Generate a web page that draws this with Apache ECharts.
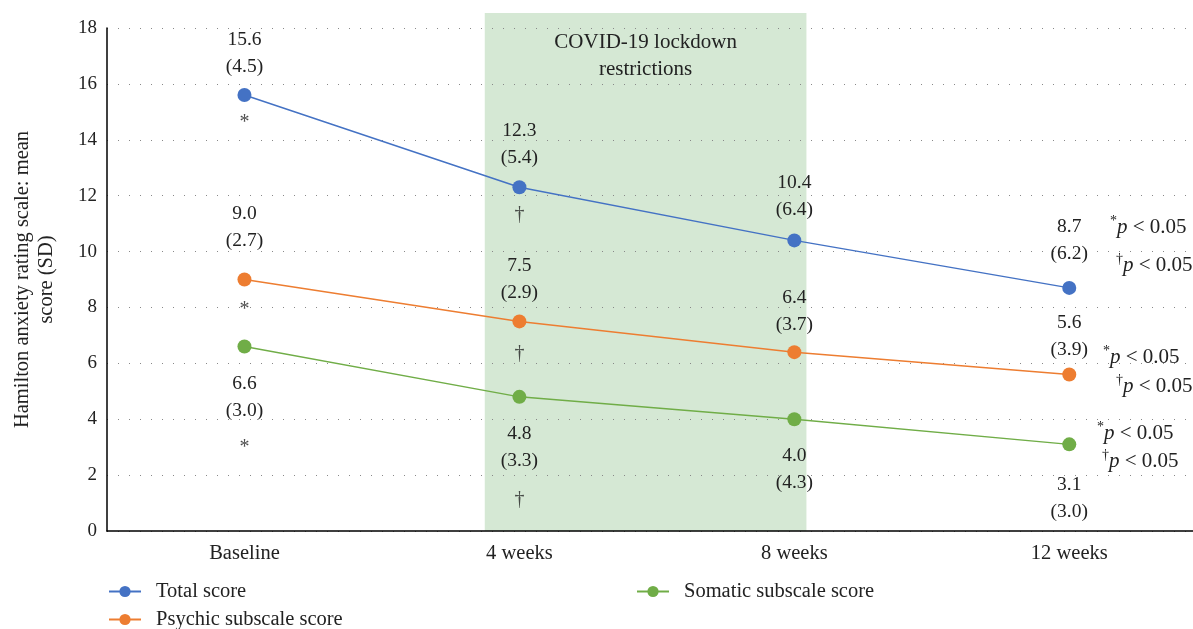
<!DOCTYPE html>
<html><head><meta charset="utf-8">
<script src="https://cdn.jsdelivr.net/npm/echarts@6/dist/echarts.min.js"></script>
<style>html,body{margin:0;padding:0;background:#fff}#c{width:1193px;height:629px}</style>
</head><body><div id="c"></div>
<script>
// ---- data ----
const categories = ['Baseline', '4 weeks', '8 weeks', '12 weeks'];
const seriesNames = ['Total score', 'Psychic subscale score', 'Somatic subscale score'];
const totalMean = [15.6, 12.3, 10.4, 8.7];
const totalSD = [4.5, 5.4, 6.4, 6.2];
const psychicMean = [9.0, 7.5, 6.4, 5.6];
const psychicSD = [2.7, 2.9, 3.7, 3.9];
const somaticMean = [6.6, 4.8, 4.0, 3.1];
const somaticSD = [3.0, 3.3, 4.3, 3.0];
const totalSig = ['*', '\u2020', '', ''];
const psychicSig = ['*', '\u2020', '', ''];
const somaticSig = ['*', '\u2020', '', ''];
const yMin = 0, yMax = 18, yStep = 2;
const shadeFrom = 1, shadeTo = 2; // category indices spanned by the lockdown period
const shadeText = 'COVID-19 lockdown\nrestrictions';
const yAxisTitle = 'Hamilton anxiety rating scale: mean\nscore (SD)';

// ---- layout / style (kept separate from data) ----
const FONT = 'Liberation Serif';
const colors = ['#4472C4', '#ED7D31', '#70AD47'];
const labelPos = ['top', 'top', 'bottom'];
const labelDist = [[8, 9, 10, 14], [18, 8, 7, 4], [17, 17, 16, 20]];
const sigOffset = [[28, 27], [30, 32], [101, 103]];
const noteLayout = [
  [[1110, 227], [1116, 265]],
  [[1103, 357], [1116, 386]],
  [[1097, 433], [1102, 461]]
];
const legendPlaces = [[108, 581], [108, 609], [636, 581]];
const catIdx = categories.map((c, i) => i);

const chart = echarts.init(document.getElementById('c'), null, {renderer: 'canvas'});

function mainSeries(idx, means, sds) {
  return {
    type: 'line', name: seriesNames[idx], z: 5,
    data: means.map((v, i) => ({value: [catIdx[i], v], label: {position: labelPos[idx], distance: labelDist[idx][i]}})),
    symbol: 'circle', symbolSize: 14, showSymbol: true,
    lineStyle: {width: 1.5, color: colors[idx]},
    itemStyle: {color: colors[idx]},
    emphasis: {disabled: true},
    animation: false,
    label: {
      show: true, fontFamily: FONT, fontSize: 19.5, lineHeight: 27, color: '#222',
      formatter: p => Number(p.value[1]).toFixed(1) + '\n(' + sds[p.dataIndex].toFixed(1) + ')'
    }
  };
}
function sigSeries(idx, means, sig) {
  return {
    type: 'scatter', name: 'sig' + idx, silent: true, z: 6,
    data: means.map((v, i) => [catIdx[i], v]),
    symbolSize: 1, itemStyle: {color: 'rgba(0,0,0,0)'},
    animation: false,
    label: {
      show: true, position: 'inside', fontFamily: FONT, fontSize: 20, color: '#222',
      formatter: p => sig[p.dataIndex]
    },
    labelLayout: p => ({dy: sigOffset[idx][p.dataIndex] !== undefined ? sigOffset[idx][p.dataIndex] : 0})
  };
}

const legends = seriesNames.map((n, i) => ({
  data: [n], orient: 'horizontal', padding: 0,
  left: legendPlaces[i][0], top: legendPlaces[i][1],
  itemWidth: 32, itemHeight: 14, itemGap: 8,
  textStyle: {fontFamily: FONT, fontSize: 20.5, color: '#222', lineHeight: 20, padding: [0, 0, 0, 10]}
}));

const option = {
  backgroundColor: '#fff',
  animation: false,
  textStyle: {fontFamily: FONT},
  grid: {left: 107, right: 0, top: 28, bottom: 98, containLabel: false},
  xAxis: {
    type: 'value', min: -0.5, max: categories.length - 0.55,
    axisLine: {show: true, onZero: false, lineStyle: {color: '#000', width: 1.5}},
    axisTick: {show: false},
    axisLabel: {
      fontFamily: FONT, fontSize: 20.5, color: '#222', margin: 12,
      customValues: catIdx, formatter: v => categories[Math.round(v)] || ''
    },
    splitLine: {show: false}
  },
  yAxis: {
    type: 'value', min: yMin, max: yMax, interval: yStep,
    name: yAxisTitle, nameLocation: 'middle', nameGap: 48,
    nameTextStyle: {fontFamily: FONT, fontSize: 20.5, color: '#222', lineHeight: 24},
    axisLine: {show: true, onZero: false, lineStyle: {color: '#000', width: 1.5}},
    axisTick: {show: false},
    axisLabel: {fontFamily: FONT, fontSize: 19, color: '#222', margin: 10},
    splitLine: {show: true, lineStyle: {color: '#888', width: 1, type: [1, 10]}}
  },
  legend: legends,
  series: [
    mainSeries(0, totalMean, totalSD),
    mainSeries(1, psychicMean, psychicSD),
    mainSeries(2, somaticMean, somaticSD),
    sigSeries(0, totalMean, totalSig),
    sigSeries(1, psychicMean, psychicSig),
    sigSeries(2, somaticMean, somaticSig)
  ]
};
chart.setOption(option);

// shaded lockdown band and annotations, positioned through the axes
const p1 = chart.convertToPixel({xAxisIndex: 0}, shadeFrom);
const p2 = chart.convertToPixel({xAxisIndex: 0}, shadeTo);
const band = p2 - p1;
const x0 = p1 - 0.126 * band;
const x1 = p2 + 0.044 * band;
const yTop = chart.convertToPixel({yAxisIndex: 0}, yMax) - 15;
const yBot = chart.convertToPixel({yAxisIndex: 0}, yMin);

const notes = [];
noteLayout.forEach(pair => {
  ['*', '\u2020'].forEach((mark, k) => {
    notes.push({
      type: 'text', left: pair[k][0], top: pair[k][1] - 13, z: 10,
      style: {
        rich: {
          s: {fontFamily: FONT, fontSize: 14, fill: '#222', verticalAlign: 'top', lineHeight: 26},
          i: {fontFamily: FONT, fontStyle: 'italic', fontSize: 21, fill: '#222', lineHeight: 26},
          n: {fontFamily: FONT, fontSize: 21, fill: '#222', lineHeight: 26}
        },
        text: '{s|' + mark + '}{i|p}{n| < 0.05}'
      }
    });
  });
});

chart.setOption({
  graphic: [
    {
      type: 'rect', z: -10, silent: true,
      shape: {x: x0, y: yTop, width: x1 - x0, height: yBot - yTop},
      style: {fill: '#D5E8D4'}
    },
    {
      type: 'text', z: 10, silent: true,
      x: (x0 + x1) / 2, y: yTop + 16,
      style: {
        text: shadeText, fontFamily: FONT, fontSize: 21, fill: '#222',
        align: 'center', verticalAlign: 'top', lineHeight: 27
      }
    }
  ].concat(notes)
});
</script>
</body></html>
